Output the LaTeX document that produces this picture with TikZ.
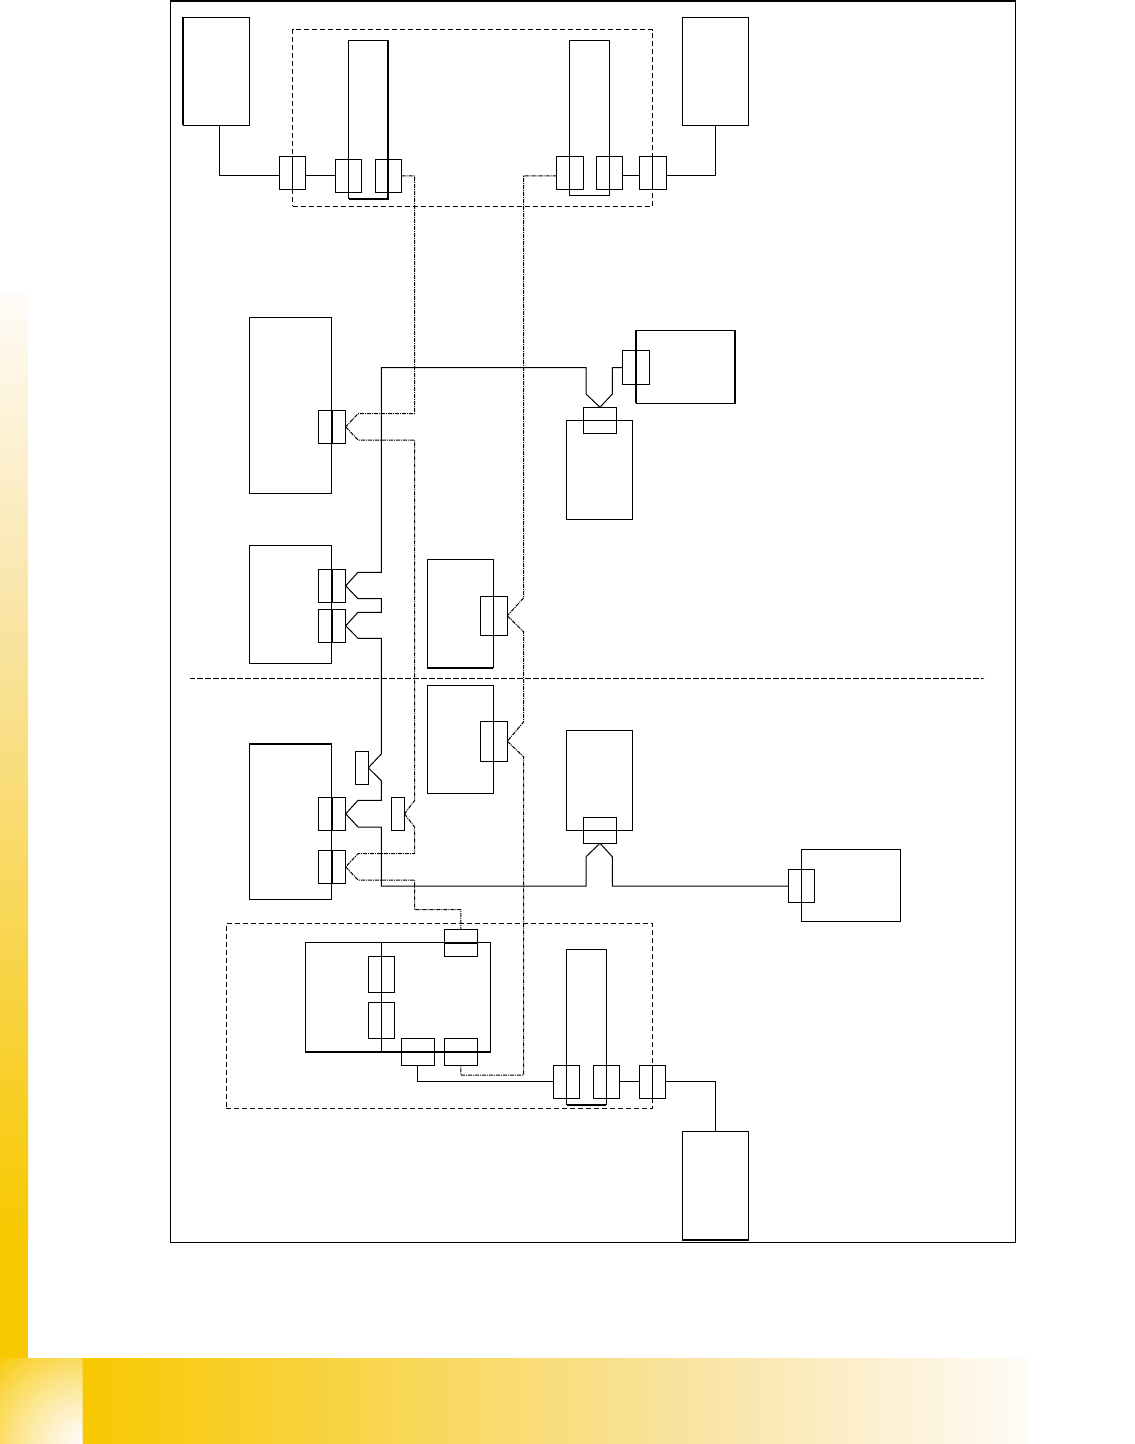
\documentclass[tikz,border=0pt]{standalone}
\usepackage{xcolor}
\usepackage{tikz}
\usetikzlibrary{backgrounds, positioning}

\definecolor{brandgold}{HTML}{F8C800}
\definecolor{brandmid}{HTML}{F9E39F}
\definecolor{brandpale}{HTML}{FFFBF7}

\tikzset{
    unit/.style 2 args={draw, rectangle, inner sep=0pt, outer sep=0pt, minimum width=#1*0.5pt, minimum height=#2*0.5pt},
    zone/.style 2 args={unit={#1}{#2}, dash pattern=on 2.5pt off 1.5pt},
    edge/.style={line width=1pt},
    signal/.style={line width=0.5pt, dash pattern=on 2pt off 0.5pt on 0.5pt off 0.5pt, black}
}

\begin{document}
\begin{tikzpicture}[x=0.5pt, y=-0.5pt, line width=0.5pt]
        \useasboundingbox (0,0) rectangle (1134,1444);

        \begin{scope}[on background layer]
            \shade [top color=brandpale, bottom color=brandmid] (0,294) rectangle (28,640);
            \shade [top color=brandmid, bottom color=brandgold] (0,640) rectangle (28,1240);
            \fill [brandgold] (0,1240) rectangle (28,1358);
            \shade [left color=brandgold, right color=brandmid] (82,1358) rectangle (680,1444);
            \shade [left color=brandmid, right color=brandpale] (680,1358) rectangle (1030,1444);
            \begin{scope}
                \clip (0,1358) rectangle (82,1444);
                \fill [brandgold] (0,1358) rectangle (82,1444);
                \foreach \ring [evaluate=\ring as \tone using 100*(\ring/125)^1.3] in {124,120,...,4}
                    \fill [brandgold!\tone!brandpale] (82,1444) circle (\ring);
            \end{scope}
        \end{scope}

        \node (frame) at (593.25,621.5) [unit={845}{1241}] {};

        % Upper site
        \node (hostleft) at (216.25,71.5) [unit={66.5}{108}] {};
        \node (hostright) at (715.5,71.5) [unit={66}{108}] {};
        \node (rackupper) at (472.5,118.25) [zone={360}{176.5}] {};
        \node (cardleft) at (368.25,119.75) [unit={39.5}{158.5}] {};
        \node (cardright) at (589.5,118) [unit={40}{155}] {};
        \node (rackin) at (292.5,173) [unit={26}{33}] {};
        \node (cardleftin) at (348.5,176) [unit={26}{33}] {};
        \node (cardleftout) at (388.5,176) [unit={26}{33}] {};
        \node (cardrightout) at (570,173) [unit={27}{33}] {};
        \node (cardrightin) at (609.5,173) [unit={26}{33}] {};
        \node (rackout) at (652.5,173) [unit={27}{33}] {};

        % Middle row
        \node (switchtop) at (290.3,405.6) [unit={82}{175.3}] {};
        \node (switchtopport) at (332,426.8) [unit={27.4}{33}] {};
        \node (switchmid) at (290.3,604.6) [unit={82}{118.6}] {};
        \node (switchmidup) at (332,585.8) [unit={27.4}{33}] {};
        \node (switchmiddown) at (332,625.8) [unit={27.4}{33}] {};
        \node (storetop) at (599.5,469.8) [unit={66.4}{99}] {};
        \node (storetopport) at (600,420.3) [unit={33.4}{26}] {};
        \node (servertop) at (685.5,366.8) [unit={99}{73}] {};
        \node (servertopport) at (635.8,367.5) [unit={27}{33}] {};
        \node (bridgeup) at (460.3,613.4) [unit={66}{108.2}] {};
        \node (bridgeupport) at (493.8,615.8) [unit={27}{39}] {};

        \node (divider) at (587,678) [zone={794}{0}] {};

        % Lower site
        \node (bridgedown) at (460.3,739.2) [unit={66}{108.2}] {};
        \node (bridgedownport) at (493.8,741.3) [unit={27}{40}] {};
        \node (switchlow) at (290.3,821.5) [unit={82}{155.6}] {};
        \node (switchlowup) at (332,813.8) [unit={27.4}{33}] {};
        \node (switchlowdown) at (332,866.8) [unit={27.4}{33}] {};
        \node (tapsolid) at (361.8,767.8) [unit={13}{33}] {};
        \node (tapsignal) at (398,813.8) [unit={13}{32.5}] {};
        \node (storelow) at (599.5,780.3) [unit={66.4}{100}] {};
        \node (storelowport) at (600,830.3) [unit={33.4}{26}] {};
        \node (serverlow) at (850.5,885.5) [unit={99}{72}] {};
        \node (serverlowport) at (801.25,886) [unit={26.5}{33}] {};

        % Rack at the bottom
        \node (racklower) at (439.5,1015.8) [zone={426.4}{185}] {};
        \node (chassis) at (398,997.2) [unit={184.6}{109.7}] {};
        \node (slotone) at (381.3,974.3) [unit={26}{36}] {};
        \node (slottwo) at (381.3,1020.3) [unit={26}{36}] {};
        \node (slotdata) at (417.8,1051.8) [unit={33}{27}] {};
        \node (slotsignal) at (460.8,1051.8) [unit={33}{27}] {};
        \node (slottop) at (460.8,942.8) [unit={33}{27}] {};
        \node (cardlow) at (586.5,1027) [unit={39.6}{155.4}] {};
        \node (cardlowin) at (566.3,1081.8) [unit={26}{33}] {};
        \node (cardlowout) at (606.3,1081.8) [unit={26}{33}] {};
        \node (rackexit) at (652.7,1081.8) [unit={26}{33}] {};
        \node (hostlow) at (715.5,1185.5) [unit={66}{109}] {};

        % Centre bars
        \foreach \port in {rackin, rackout, rackexit, switchtopport, switchmidup, switchmiddown, switchlowup, switchlowdown}
            \draw (\port.north) -- (\port.south);
        \draw (chassis.north -| slotone) -- (chassis.south -| slotone);

        % Heavy edges
        \draw [edge] (frame.north west) -- (frame.north east);
        \draw [edge] (hostleft.north west) -- (hostleft.south west);
        \draw [edge] (cardleft.north east) -- (cardleft.south east) -- (cardleft.south west);
        \draw [edge] (servertop.north west) -- (servertop.south west);
        \draw [edge] (servertop.north east) -- (servertop.south east);
        \draw [edge] (switchlow.north west) -- (switchlow.north east);
        \draw [edge] (bridgeup.south west) -- (bridgeup.south east);
        \draw [edge] (chassis.south west) -- (chassis.south east);
        \draw [edge] (slottop.west) -- (slottop.east);
        \draw [edge] (cardlow.south west) -- (cardlow.south east);
        \draw [edge] (hostlow.south west) -- (hostlow.south east);

        % Lines
        \draw ([xshift=1.6pt]hostleft.south) |- ([yshift=-1.5pt]rackin.west);
        \draw ([yshift=-1.5pt]rackin.east) -- (cardleftin.west);
        \draw ([yshift=-1.5pt]cardrightin.east) -- ([yshift=-1.5pt]rackout.west);
        \draw ([yshift=-1.5pt]rackout.east) -| (hostright.south);

        \draw (servertopport.west) -| (612.3,394) -- (storetopport.north);
        \draw (storetopport.north) -- (586,394) -- (586,367.5) -- (381.3,367.5) -- (381.3,572.3) -- (358,572.3) -- (switchmidup.east);
        \draw (switchmidup.east) -- (358,598.7) -- (381.3,598.7) -- (381.3,612.3) -- (358,612.3) -- (switchmiddown.east);
        \draw (switchmiddown.east) -- (358,638.3) -- (381.3,638.3) -- (381.3,754) -- (tapsolid.east);
        \draw (tapsolid.east) -- (381.3,780.7) -- (381.3,800.3) -- (358,800.3) -- (switchlowup.east);
        \draw (switchlowup.east) -- (358,827) -- (381.3,827) -- (381.3,886) -- (586,886) -- (586,856.7) -- (storelowport.south);
        \draw (storelowport.south) -- (612.3,856.7) -- (612.3,886) -- (serverlowport.west);

        \draw (slotdata.south) |- (cardlowin.west);
        \draw (cardlowout.east) -- (rackexit.west);
        \draw (rackexit.east) -| (hostlow.north);

        % Signal lines
        \draw [signal] (cardleftout.east) -| (414.5,413.7) -- (358,413.7) -- (switchtopport.east);
        \draw [signal] (switchtopport.east) -- (358,440) -- (414.5,440) -- (414.5,800.7) -- (tapsignal.east);
        \draw [signal] (tapsignal.east) -- (414.5,827) -- (414.5,853.7) -- (358,853.7) -- (switchlowdown.east);
        \draw [signal] (switchlowdown.east) -- (358,880) -- (414.5,880) -- (414.5,909.7) -- (460.8,909.7) -- (slottop.north);

        \draw [signal] ([yshift=-1.5pt]cardrightout.west) -- (523.5,176) -- (523.5,598) -- (bridgeupport.east);
        \draw [signal] (bridgeupport.east) -- (523.5,631.7) -- (523.5,722) -- (bridgedownport.east);
        \draw [signal] (bridgedownport.east) -- (523.5,756.7) -- (523.5,1075) -- (460.8,1075) -- (slotsignal.south);
\end{tikzpicture}
\end{document}
